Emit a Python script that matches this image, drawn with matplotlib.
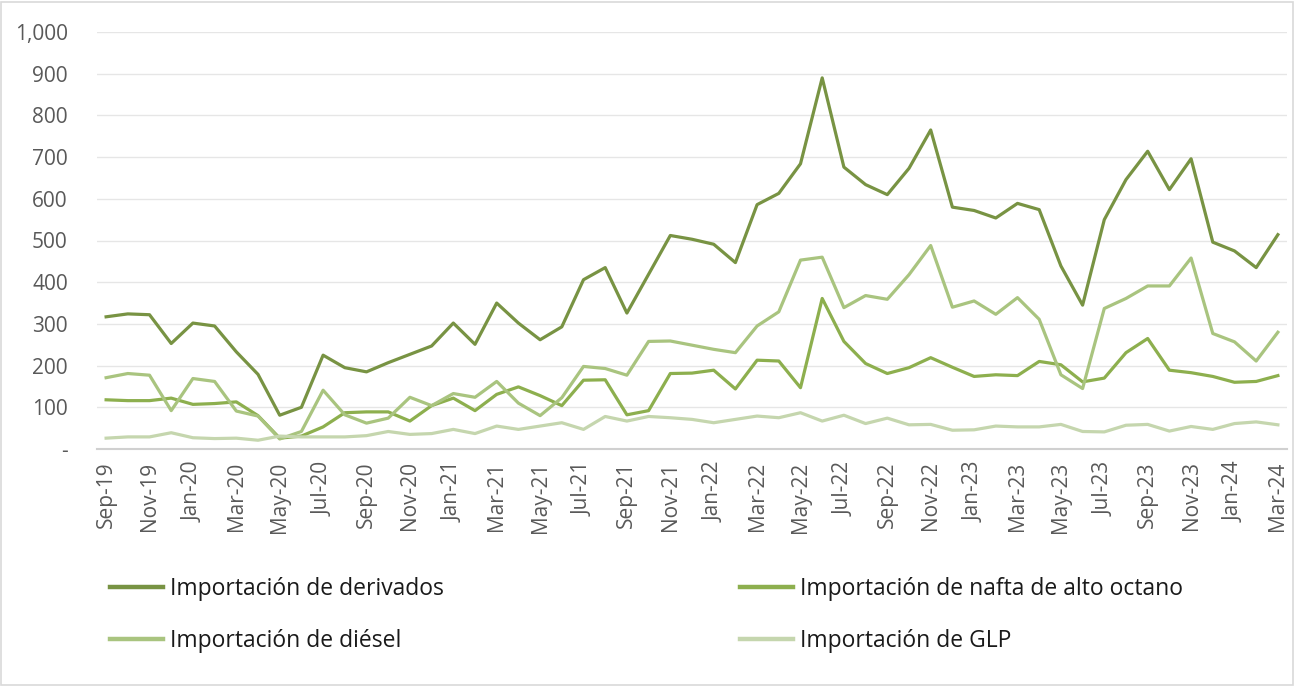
import matplotlib
matplotlib.use("Agg")
import matplotlib.pyplot as plt
import pandas as pd
from matplotlib.patches import Rectangle
from matplotlib.ticker import FuncFormatter, FixedLocator

months = list(pd.date_range("2019-09-01", periods=55, freq="MS").strftime("%b-%y"))

derivados = [317, 324, 322, 253, 302, 295, 233, 179, 81, 100, 225, 195, 185, 207, 227,
             247, 302, 251, 350, 302, 262, 293, 406, 435, 326, 419, 512, 503, 491, 447,
             586, 613, 684, 890, 676, 634, 610, 673, 765, 580, 572, 554, 589, 574, 439,
             345, 550, 646, 714, 622, 696, 496, 475, 435, 514]
nafta = [118, 116, 116, 122, 107, 109, 113, 80, 26, 31, 53, 87, 89, 89, 67,
         104, 122, 92, 131, 149, 128, 104, 165, 166, 82, 92, 181, 182, 189, 144,
         213, 211, 147, 361, 258, 205, 181, 195, 219, 196, 174, 178, 176, 210, 202,
         161, 170, 231, 265, 189, 183, 174, 160, 162, 176]
diesel = [171, 181, 177, 92, 169, 162, 91, 79, 24, 42, 141, 82, 62, 74, 124,
          104, 133, 124, 162, 110, 80, 123, 198, 193, 177, 258, 259, 249, 239, 231,
          295, 329, 453, 460, 339, 368, 359, 418, 488, 340, 355, 323, 363, 311, 178,
          145, 337, 361, 391, 391, 458, 277, 257, 211, 280]
glp = [26, 29, 29, 39, 27, 25, 26, 21, 31, 29, 29, 29, 32, 42, 35,
       37, 47, 37, 55, 47, 55, 63, 47, 78, 67, 78, 75, 71, 63, 71,
       79, 75, 87, 67, 81, 61, 74, 58, 59, 45, 46, 55, 53, 53, 59,
       42, 41, 57, 59, 43, 54, 47, 61, 65, 58]

series_names = ["Importación de derivados", "Importación de nafta de alto octano",
                "Importación de diésel", "Importación de GLP"]
colors = ["#789343", "#8DAF4E", "#A9C47F", "#C5D6AE"]

plt.rcParams["font.family"] = ["Open Sans", "DejaVu Sans"]

fig = plt.figure(figsize=(12.95, 6.86), dpi=100)
ax = fig.add_axes([97 / 1295, 1 - 449 / 686, (1287 - 97) / 1295, (449 - 32) / 686])

x = list(range(len(months)))
lines = []
for vals, name, c in zip([derivados, nafta, diesel, glp], series_names, colors):
    ln, = ax.plot(x, vals, color=c, lw=2.3, label=name, solid_joinstyle="round", zorder=3)
    lines.append(ln)

ax.set_xlim(-0.42, len(months) - 1 + 0.42)
ax.set_ylim(0, 1000)
ax.yaxis.set_major_locator(FixedLocator(range(0, 1001, 100)))
ax.yaxis.set_major_formatter(FuncFormatter(lambda v, p: "-" if v == 0 else f"{int(v):,}"))
ax.set_xticks(x[::2])
ax.set_xticklabels(months[::2], rotation=90)

ax.grid(axis="y", color="#E6E6E6", lw=1.0, zorder=0)
for s in ["top", "right", "left"]:
    ax.spines[s].set_visible(False)
ax.spines["bottom"].set_color("#D0D0D0")
ax.spines["bottom"].set_linewidth(1.5)
ax.tick_params(axis="both", length=0, labelsize=15, colors="#595959")
ax.tick_params(axis="y", pad=21)
ax.tick_params(axis="x", pad=9)

leg_kw = dict(frameon=False, fontsize=16.5, handlelength=2.3, handletextpad=0.3,
              labelspacing=1.22, loc="upper left", borderaxespad=0, borderpad=0)
leg1 = fig.legend([lines[0], lines[2]], [series_names[0], series_names[2]],
                  bbox_to_anchor=(110 / 1295, 1 - 577 / 686), **leg_kw)
leg2 = fig.legend([lines[1], lines[3]], [series_names[1], series_names[3]],
                  bbox_to_anchor=(740 / 1295, 1 - 577 / 686), **leg_kw)
for lg in (leg1, leg2):
    for t in lg.get_texts():
        t.set_color("#1a1a1a")
    for h in lg.legend_handles:
        h.set_linewidth(3.2)

fig.patches.append(Rectangle((1 / 1295, 1 / 686), 1 - 3 / 1295, 1 - 3 / 686,
                             transform=fig.transFigure, fill=False,
                             edgecolor="#D9D9D9", lw=1.2))

fig.savefig("out.png", dpi=100)
